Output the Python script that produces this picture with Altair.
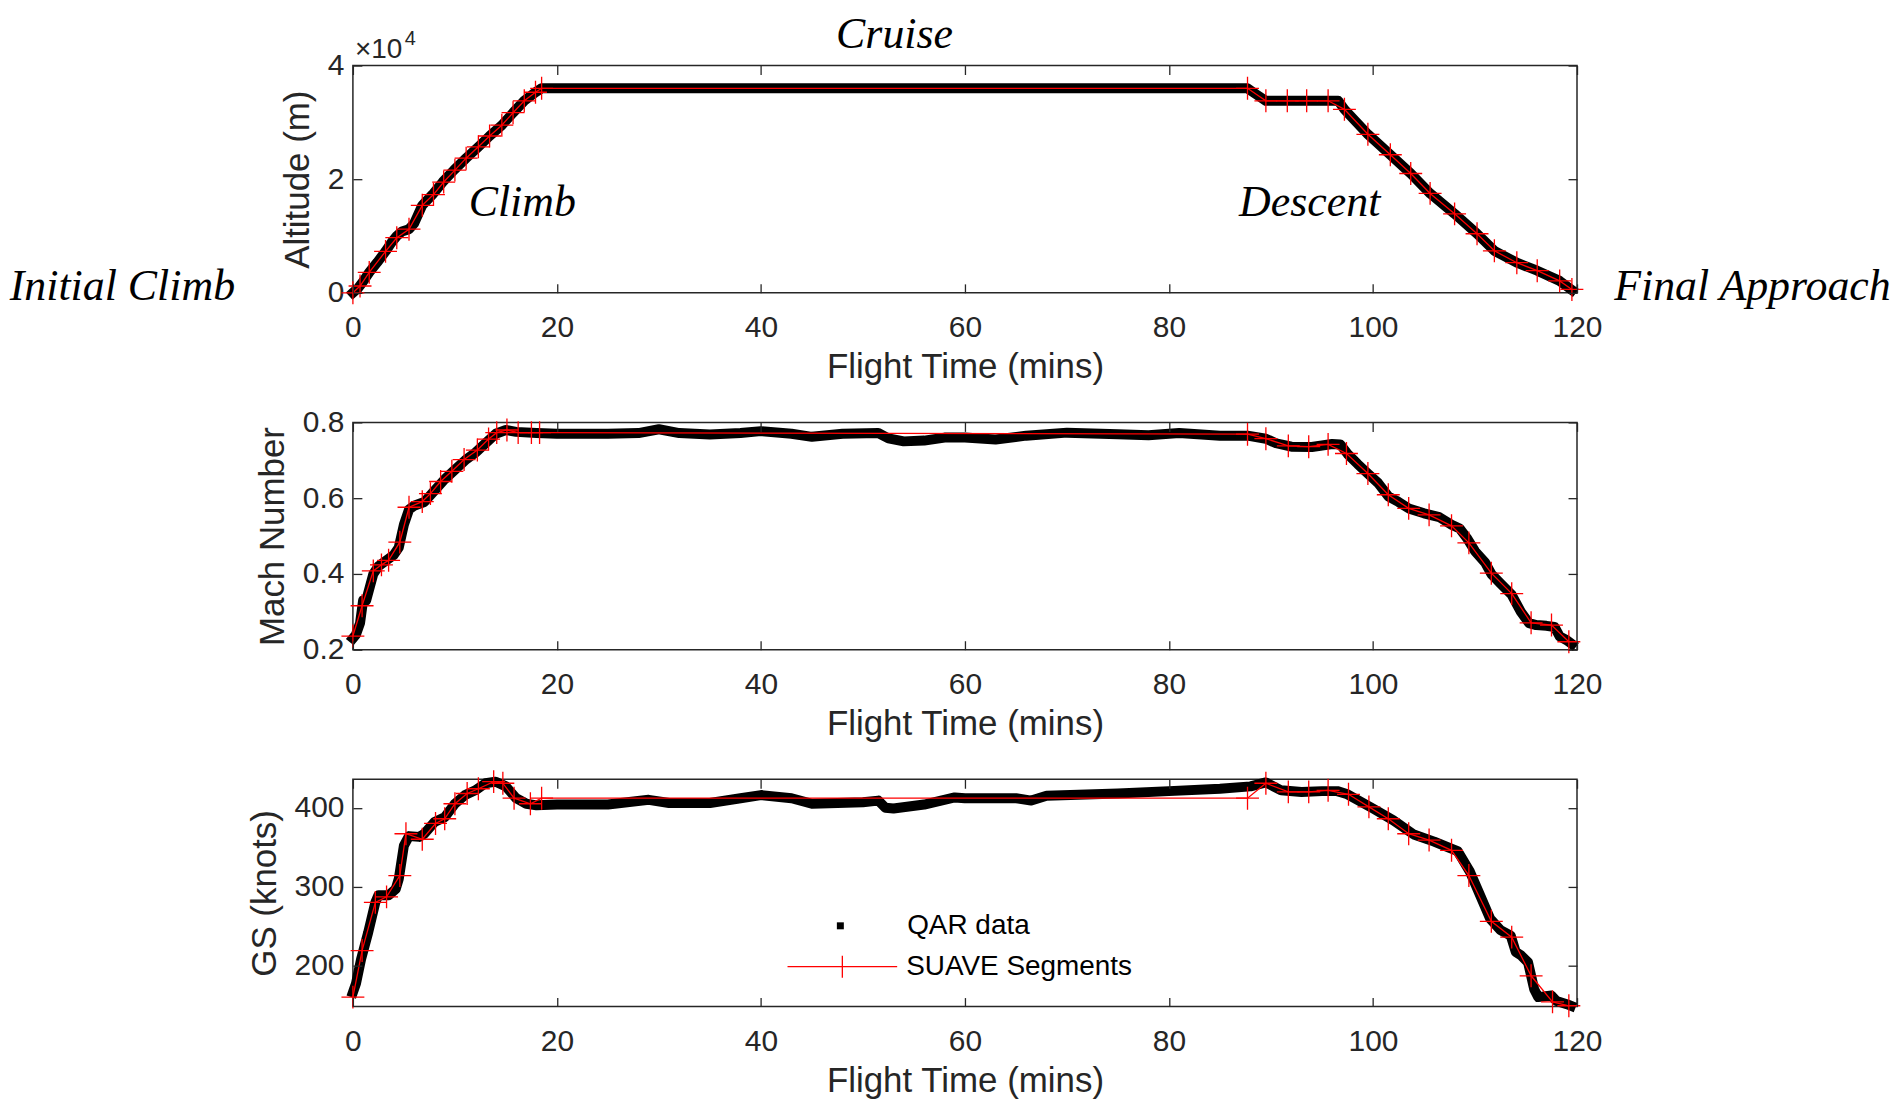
import altair as alt
import pandas as pd

# ---------------- data ----------------
x_ticks = [0, 20, 40, 60, 80, 100, 120]

# Altitude panel
alt_qar_t = [0, 0.5, 1.0, 1.6, 2.4, 3.2, 3.8, 4.3, 4.8, 5.5, 6.0, 6.8, 7.8, 8.8, 9.9, 11.1, 12.3,
             13.4, 14.6, 15.7, 16.8, 17.9, 18.5, 40, 60, 87.7, 88.5, 89.5, 93.0, 96.6, 97.2, 99.5,
             101.7, 103.7, 105.6, 108.0, 110.2, 111.9, 114.1, 116.1, 118.3, 119.5]
alt_qar_v = [0, 800, 2000, 3600, 5400, 7300, 8900, 10000, 10800, 11200, 12200, 15400, 17300, 19500,
             21600, 23700, 25700, 27600, 29500, 31700, 33800, 35300, 36000, 36000, 36000, 36000, 35000,
             33800, 33800, 33800, 32300, 27900, 24300, 21000, 17500, 13900, 10400, 7400, 5300, 3900,
             2100, 500]
alt_seg_t = [0, 0.7, 1.6, 3.2, 4.3, 5.5, 6.8, 7.9, 8.9, 10.0, 11.1, 12.3, 13.4, 14.6, 15.7, 16.8,
             17.9, 18.5, 87.7, 89.5, 91.6, 93.5, 95.6, 97.2, 99.5, 101.7, 103.7, 105.6, 108.0, 110.2,
             111.9, 114.1, 116.1, 118.3, 119.5]
alt_seg_v = [0, 1200, 3600, 7300, 9700, 11200, 15400, 17300, 19500, 21600, 23700, 25700, 27600,
             29500, 31700, 33800, 35300, 36000, 36000, 33800, 33800, 33800, 33800, 32300, 27900,
             24300, 21000, 17500, 13900, 10400, 7400, 5300, 3900, 2100, 600]
alt_ticks = [0, 20000, 40000]

# Mach panel
mach_qar_t = [0, 0.3, 0.7, 1.0, 1.3, 2.0, 2.5, 3.0, 4.0, 4.5, 5.0, 5.5, 6.0, 7.0, 8.0, 9.0, 10.0,
              11.0, 12.0, 13.0, 14.0, 15.0, 16.0, 18.0, 20.0, 25.0, 28.0, 30.0, 32.0, 35.0, 38.0,
              40.0, 43.0, 45.0, 48.0, 51.5, 52.5, 54.0, 56.0, 58.0, 60.0, 63.0, 66.0, 70.0, 75.0,
              78.0, 81.0, 85.0, 87.7, 89.5, 90.5, 92.0, 94.0, 96.0, 96.8, 97.5, 98.5, 99.5, 100.5,
              101.5, 102.5, 103.5, 105.0, 106.5, 107.7, 108.5, 109.2, 110.0, 111.0, 111.6, 112.5,
              113.6, 114.5, 115.3, 116.0, 117.0, 117.8, 118.3, 119.0, 119.5]
mach_qar_v = [0.23, 0.24, 0.27, 0.33, 0.33, 0.40, 0.42, 0.43, 0.45, 0.47, 0.53, 0.57, 0.58, 0.59,
              0.62, 0.65, 0.675, 0.70, 0.72, 0.745, 0.77, 0.78, 0.775, 0.772, 0.770, 0.770, 0.772,
              0.782, 0.772, 0.768, 0.772, 0.777, 0.770, 0.762, 0.770, 0.772, 0.758, 0.750, 0.752,
              0.760, 0.760, 0.755, 0.765, 0.773, 0.769, 0.766, 0.772, 0.765, 0.765, 0.757, 0.745,
              0.736, 0.735, 0.743, 0.742, 0.717, 0.69, 0.665, 0.64, 0.605, 0.59, 0.573, 0.56, 0.55,
              0.53, 0.52, 0.495, 0.46, 0.43, 0.40, 0.375, 0.345, 0.30, 0.27, 0.265, 0.263, 0.26,
              0.235, 0.225, 0.215]
mach_seg_t = [0, 0.9, 2.0, 2.8, 3.5, 4.6, 5.5, 6.8, 7.6, 8.6, 9.7, 10.9, 12.2, 13.3, 14.1, 15.1,
              16.2, 17.5, 18.3, 87.7, 89.5, 91.7, 93.7, 95.6, 97.4, 99.5, 101.5, 103.5, 105.5,
              107.7, 109.4, 111.6, 113.6, 115.5, 117.5, 119.2]
mach_seg_v = [0.236, 0.316, 0.408, 0.424, 0.436, 0.484, 0.576, 0.591, 0.612, 0.644, 0.671, 0.702,
              0.727, 0.756, 0.773, 0.780, 0.773, 0.773, 0.773, 0.769, 0.757, 0.738, 0.736, 0.742,
              0.718, 0.665, 0.609, 0.573, 0.556, 0.527, 0.482, 0.402, 0.348, 0.271, 0.265, 0.221]
mach_ticks = [0.2, 0.4, 0.6, 0.8]

# Ground speed panel
gs_qar_t = [0, 0.3, 0.8, 1.5, 2.2, 2.5, 3.5, 4.2, 4.5, 5.0, 5.5, 6.5, 7.0, 8.0, 9.0, 10.0, 11.0,
            12.0, 13.0, 14.0, 15.0, 16.0, 17.0, 18.0, 20, 25, 29, 31, 35, 38, 40, 43, 45, 50, 51.5,
            52.2, 53, 56, 59, 60, 65, 66.5, 68, 75, 80, 85, 88, 89.5, 91, 93, 95, 96.5, 97.5, 100,
            102, 104, 106, 107.5, 108.3, 109.5, 110.5, 111.5, 112.5, 113.5, 114, 114.5, 115.2, 115.8,
            116.2, 117.5, 118, 119, 119.4]
gs_qar_v = [166, 177, 208, 242, 280, 289, 289, 297, 310, 352, 364, 363, 367, 382, 388, 405, 416,
            422, 431, 433, 427, 412, 405, 403, 404, 404, 410, 406, 406, 412, 416, 412, 405, 407, 409,
            400, 399, 404, 413, 412, 412, 409, 415, 418, 421, 424, 427, 432, 422, 420, 421, 421, 417,
            399, 384, 366, 357, 349, 345, 319, 289, 259, 245, 238, 217, 213, 204, 170, 160, 162, 155,
            151, 149]
gs_seg_t = [0, 0.9, 2.2, 3.3, 4.6, 5.2, 6.8, 8.1, 9.0, 10.0, 11.2, 12.3, 13.8, 14.7, 15.8, 17.4,
            18.5, 87.7, 89.5, 91.7, 93.7, 95.6, 97.6, 99.6, 101.5, 103.5, 105.5, 107.7, 109.4,
            111.6, 113.6, 115.5, 117.6, 119.2]
gs_seg_v = [160, 219, 280, 287, 314, 367, 360, 380, 386, 405, 418, 424, 433, 431, 412, 405, 412,
            412, 431, 420, 420, 422, 417, 401, 386, 367, 359, 346, 314, 256, 236, 187, 154, 149]
gs_ticks = [200, 300, 400]

# Phase annotations (in data coordinates of the altitude panel)
phase_text = ["Cruise", "Climb", "Descent", "Initial Climb", "Final Approach"]
phase_t = [53.1, 16.6, 93.8, -22.6, 137.2]
phase_v = [45300, 15800, 15800, 1100, 1100]

series_names = ["QAR data", "SUAVE Segments"]

# ---------------- styling ----------------
FONT = "Liberation Sans"
AXC = "#262626"
W, H = 1228, 228
TICK = 9
PLUS = "M-1,0L1,0M0,-1L0,1"
LEG_LINE = "M-1,0L1,0M0,-0.2L0,0.2"

xs = alt.Scale(domain=[0, 120], nice=False, zero=False)


def panel(qt, qv, st, sv, ytitle, ydom, yticks, label_expr=None, fmt=None,
          legend=False, extra=None):
    qar = pd.DataFrame({"t": qt, "v": qv, "s": series_names[0]})
    seg = pd.DataFrame({"t": st, "v": sv, "s": series_names[1]})
    ys = alt.Scale(domain=ydom, nice=False, zero=False)

    ax_main_kw = dict(values=yticks, title=ytitle, ticks=False, tickSize=0, domain=False,
                      labelPadding=9, titlePadding=12, orient="left", labelFlush=False,
                      labelOverlap=False)
    if label_expr:
        ax_main_kw["labelExpr"] = label_expr
    if fmt:
        ax_main_kw["format"] = fmt

    x_main = alt.X("t:Q", scale=xs, axis=alt.Axis(values=x_ticks, title="Flight Time (mins)",
                                                  ticks=False, tickSize=0, domain=False,
                                                  labelPadding=20, titlePadding=7,
                                                  labelFlush=False, labelOverlap=False,
                                                  orient="bottom"))
    y_main = alt.Y("v:Q", scale=ys, axis=alt.Axis(**ax_main_kw))

    def tick_axis(orient, vals):
        return alt.Axis(values=vals, orient=orient, offset=-TICK, tickSize=TICK, ticks=True,
                        labels=False, domain=False, title=None, zindex=1)

    qar_enc = dict(x=x_main, y=y_main, strokeWidth=alt.value(10))
    if legend:
        qar_enc["color"] = alt.Color(
            "s:N", scale=alt.Scale(domain=[series_names[0]], range=["black"]),
            legend=alt.Legend(orient="none", legendX=475, legendY=133, title=None,
                              symbolType="square", symbolSize=9, symbolStrokeWidth=4,
                              labelOffset=53, padding=0, labelLimit=500))
    qar_layer = alt.Chart(qar).mark_line(color="black", strokeCap="square",
                                         strokeJoin="round").encode(**qar_enc)

    seg_enc = dict(x=alt.X("t:Q", scale=xs, axis=tick_axis("bottom", x_ticks)),
                   y=alt.Y("v:Q", scale=ys, axis=tick_axis("left", yticks)))
    if legend:
        seg_enc["stroke"] = alt.Stroke(
            "s:N", scale=alt.Scale(domain=[series_names[1]], range=["red"]),
            legend=alt.Legend(orient="none", legendX=435, legendY=132, title=None,
                              symbolType=LEG_LINE, symbolSize=12100, symbolStrokeWidth=1.3,
                              labelOffset=8, padding=0, labelLimit=500))
    seg_line = alt.Chart(seg).mark_line(color="red", strokeWidth=1.3).encode(**seg_enc)

    seg_pts = alt.Chart(seg).mark_point(shape=PLUS, size=529, color="red", strokeWidth=1.3,
                                        filled=False, opacity=1).encode(
        x=alt.X("t:Q", scale=xs, axis=tick_axis("top", x_ticks)),
        y=alt.Y("v:Q", scale=ys, axis=tick_axis("right", yticks)))

    layers = [qar_layer, seg_line, seg_pts]
    if extra is not None:
        layers += extra(ys)
    return alt.layer(*layers).resolve_axis(x="independent", y="independent").properties(
        width=W, height=H)


def altitude_extras(ys):
    ann = pd.DataFrame({"label": phase_text, "t": phase_t, "v": phase_v})
    text_layer = alt.Chart(ann).mark_text(font="Liberation Serif", fontStyle="italic",
                                          fontSize=44, color="black", baseline="middle",
                                          align="center").encode(
        x=alt.X("t:Q", scale=xs, axis=None), y=alt.Y("v:Q", scale=ys, axis=None),
        text="label:N")
    exp_df = pd.DataFrame({"t": [0], "v": [40000], "a": ["\u00d710"], "b": ["4"]})
    exp1 = alt.Chart(exp_df).mark_text(font=FONT, fontSize=28, color=AXC, align="left",
                                       baseline="middle", dx=2, dy=-16).encode(
        x=alt.X("t:Q", scale=xs, axis=None), y=alt.Y("v:Q", scale=ys, axis=None), text="a:N")
    exp2 = alt.Chart(exp_df).mark_text(font=FONT, fontSize=20, color=AXC, align="left",
                                       baseline="middle", dx=52, dy=-27).encode(
        x=alt.X("t:Q", scale=xs, axis=None), y=alt.Y("v:Q", scale=ys, axis=None), text="b:N")
    return [text_layer, exp1, exp2]


p1 = panel(alt_qar_t, alt_qar_v, alt_seg_t, alt_seg_v, "Altitude (m)", [0, 40000], alt_ticks,
           label_expr="datum.value / 10000", extra=altitude_extras)
p2 = panel(mach_qar_t, mach_qar_v, mach_seg_t, mach_seg_v, "Mach Number", [0.2, 0.8],
           mach_ticks, fmt=".1f")
p3 = panel(gs_qar_t, gs_qar_v, gs_seg_t, gs_seg_v, "GS (knots)", [148, 436], gs_ticks,
           fmt="d", legend=True)

chart = alt.vconcat(p1, p2, p3, spacing=130, bounds="flush").resolve_scale(
    color="independent", stroke="independent").resolve_legend(
    color="independent", stroke="independent").properties(
    padding={"left": 0, "top": 3, "right": 0, "bottom": 0}
).configure_view(stroke=AXC, strokeWidth=1.5).configure_axis(
    labelFont=FONT, titleFont=FONT, labelFontSize=30, titleFontSize=35, labelColor=AXC,
    titleColor=AXC, titleFontWeight="normal", grid=False, tickColor=AXC, tickWidth=1.3,
    domainColor=AXC
).configure_legend(labelFont=FONT, labelFontSize=28, labelColor="black")

chart.save("out.html", embed_options={"renderer": "svg", "actions": False})
